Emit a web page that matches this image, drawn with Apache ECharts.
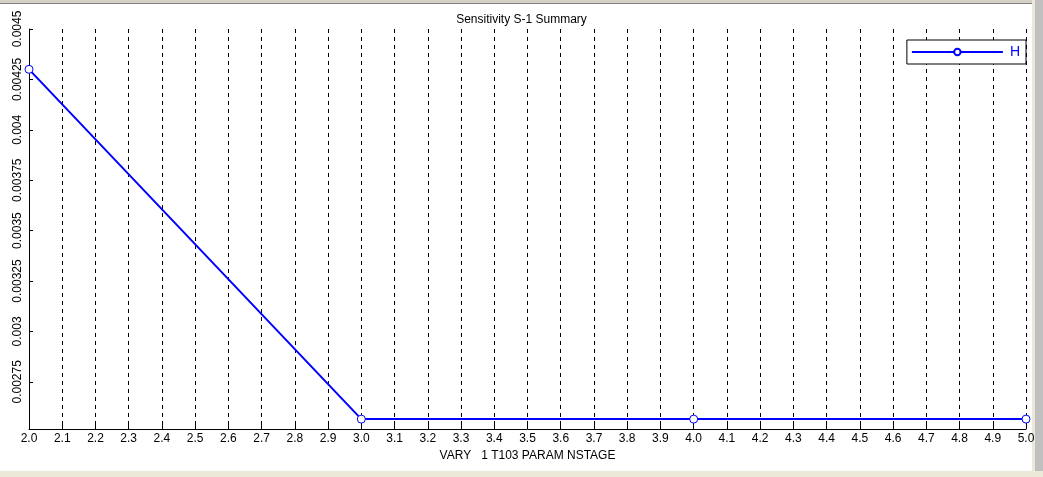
<!DOCTYPE html>
<html>
<head>
<meta charset="utf-8">
<script src="https://cdn.jsdelivr.net/npm/echarts@6/dist/echarts.min.js"></script>
<style>
html,body{margin:0;padding:0;background:#fff;}
#c{width:1043px;height:477px;}
</style>
</head>
<body>
<div id="c"></div>
<script>
var xValues = [2.0, 3.0, 4.0, 5.0];
var hValues = [0.0043, 0.002565, 0.002565, 0.002565];
var yTickValues = [0.00275, 0.003, 0.00325, 0.0035, 0.00375, 0.004, 0.00425, 0.0045];
var seriesName = 'H';
var titleText = 'Sensitivity S-1 Summary';
var xAxisName = 'VARY   1 T103 PARAM NSTAGE';

var font = 'Liberation Sans, Arial, sans-serif';
var chart = echarts.init(document.getElementById('c'));
chart.setOption({
  animation: false,
  backgroundColor: '#ffffff',
  title: {
    text: titleText, left: 'center', top: 9,
    textStyle: {fontFamily: font, fontSize: 12, fontWeight: 'normal', color: '#000'}
  },
  legend: {
    right: 17, top: 40,
    orient: 'horizontal',
    backgroundColor: '#fff',
    borderColor: '#000', borderWidth: 1, borderRadius: 0,
    padding: [5, 6, 5, 4],
    itemWidth: 91, itemHeight: 8, itemGap: 0,
    textStyle: {fontFamily: font, fontSize: 14, color: '#0000ff', padding: [0, 0, 0, 2]},
    data: [{name: seriesName}]
  },
  grid: {left: 29, right: 17, top: 29, bottom: 48, containLabel: false},
  xAxis: {
    type: 'value', min: 2.0, max: 5.0, interval: 0.1,
    name: xAxisName, nameLocation: 'middle', nameGap: 21,
    nameTextStyle: {fontFamily: font, fontSize: 12, color: '#000'},
    axisLine: {show: true, onZero: false, lineStyle: {color: '#000', width: 1}},
    axisTick: {show: true, inside: true, length: 4, lineStyle: {color: '#000'}},
    axisLabel: {fontFamily: font, fontSize: 12, color: '#000', margin: 4,
      formatter: function (v) { return v.toFixed(1); }},
    splitLine: {show: true, lineStyle: {color: '#000', type: [4, 4], width: 1}}
  },
  yAxis: {
    type: 'value', min: 0.002516, max: 0.0045,
    axisLine: {show: true, lineStyle: {color: '#000', width: 1}},
    axisTick: {show: true, inside: true, length: 4, customValues: yTickValues, lineStyle: {color: '#000'}},
    axisLabel: {fontFamily: font, fontSize: 12, color: '#000', margin: 5, rotate: 90,
      customValues: yTickValues,
      formatter: function (v) { return String(+v.toPrecision(6)); }},
    splitLine: {show: false}
  },
  series: [{
    name: seriesName, type: 'line',
    data: xValues.map(function (x, i) { return [x, hValues[i]]; }),
    symbol: 'circle', symbolSize: 8, showAllSymbol: true,
    lineStyle: {color: '#0000ff', width: 2},
    itemStyle: {color: '#ffffff', borderColor: '#0000ff', borderWidth: 1},
    emphasis: {disabled: true}
  }],
  graphic: [
    {type: 'rect', left: 0, top: 0, shape: {width: 1043, height: 3}, style: {fill: '#d4d0c8'}},
    {type: 'rect', left: 0, top: 3, shape: {width: 1043, height: 1}, style: {fill: '#808080'}},
    {type: 'rect', left: 1032, top: 0, shape: {width: 3, height: 477}, style: {fill: '#ece9d8'}},
    {type: 'rect', left: 1035, top: 0, shape: {width: 8, height: 477}, style: {fill: '#c0c0c0'}},
    {type: 'rect', left: 0, top: 471, shape: {width: 1043, height: 6}, style: {fill: '#ece9d8'}}
  ]
});
</script>
</body>
</html>
